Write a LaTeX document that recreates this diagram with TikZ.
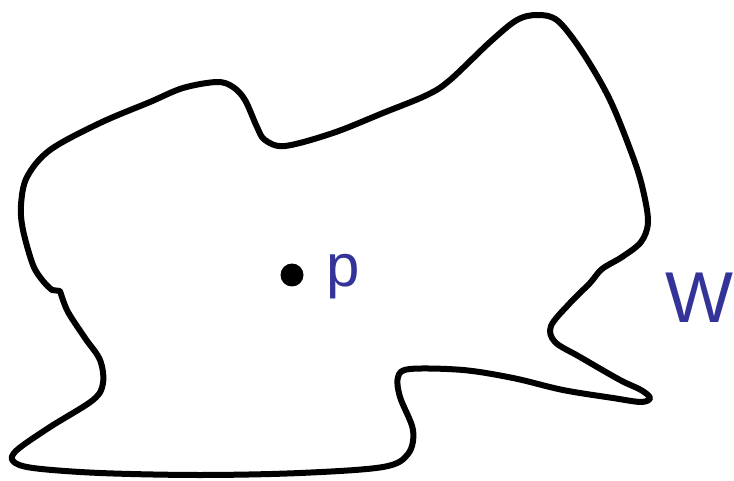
\documentclass[tikz,border=0pt]{standalone}
\usepackage{fontspec}
\setmainfont{Liberation Sans}
\definecolor{labelblue}{RGB}{51,51,153}
\begin{document}
\begin{tikzpicture}[x=1pt,y=-1pt,
  outline/.style={line width=6pt,line join=round,line cap=round},
  lbl/.style={text=labelblue,inner sep=0pt,anchor=base west},
  dotmark/.style={circle,fill=black,inner sep=0pt,minimum size=23pt}]
\useasboundingbox (0,0) rectangle (734,481);
\draw[outline] plot[smooth,tension=0.55] coordinates {
 (61,294) (68,312) (85,338) (100,360) (103,383) (93,400) (50,427) (17,450)
 (13,461) (33,468) (100,473) (200,475) (300,473) (383,467) (408,454) (413,430)
 (400,397) (398,377) (410,369) (463,370) (513,378) (563,390) (613,398)
 (641,402) (650,398) (641,390) (620,380) (580,357) (555,342) (551,326)
 (570,303) (590,283) (602,269) (622,257) (641,242) (648,222) (643,190)
 (633,157) (610,100) (583,53) (558,21) (538,15) (517,20) (490,42) (450,80)
 (427,95) (383,113) (333,133) (285,146) (265,140) (257,127) (245,100)
 (233,87) (217,82) (183,88) (150,102) (100,123) (50,150) (27,177) (21,205)
 (23,230) (33,265) (43,281) (52,290)} -- (60,291) -- cycle;
\node[dotmark] (pdot) at (292,275) {};
\node[lbl,font=\fontsize{60}{60}\selectfont] (plabel) at (326,287) {p};
\node[lbl,font=\fontsize{72}{72}\selectfont] (wlabel) at (665,323) {W};
\end{tikzpicture}
\end{document}
